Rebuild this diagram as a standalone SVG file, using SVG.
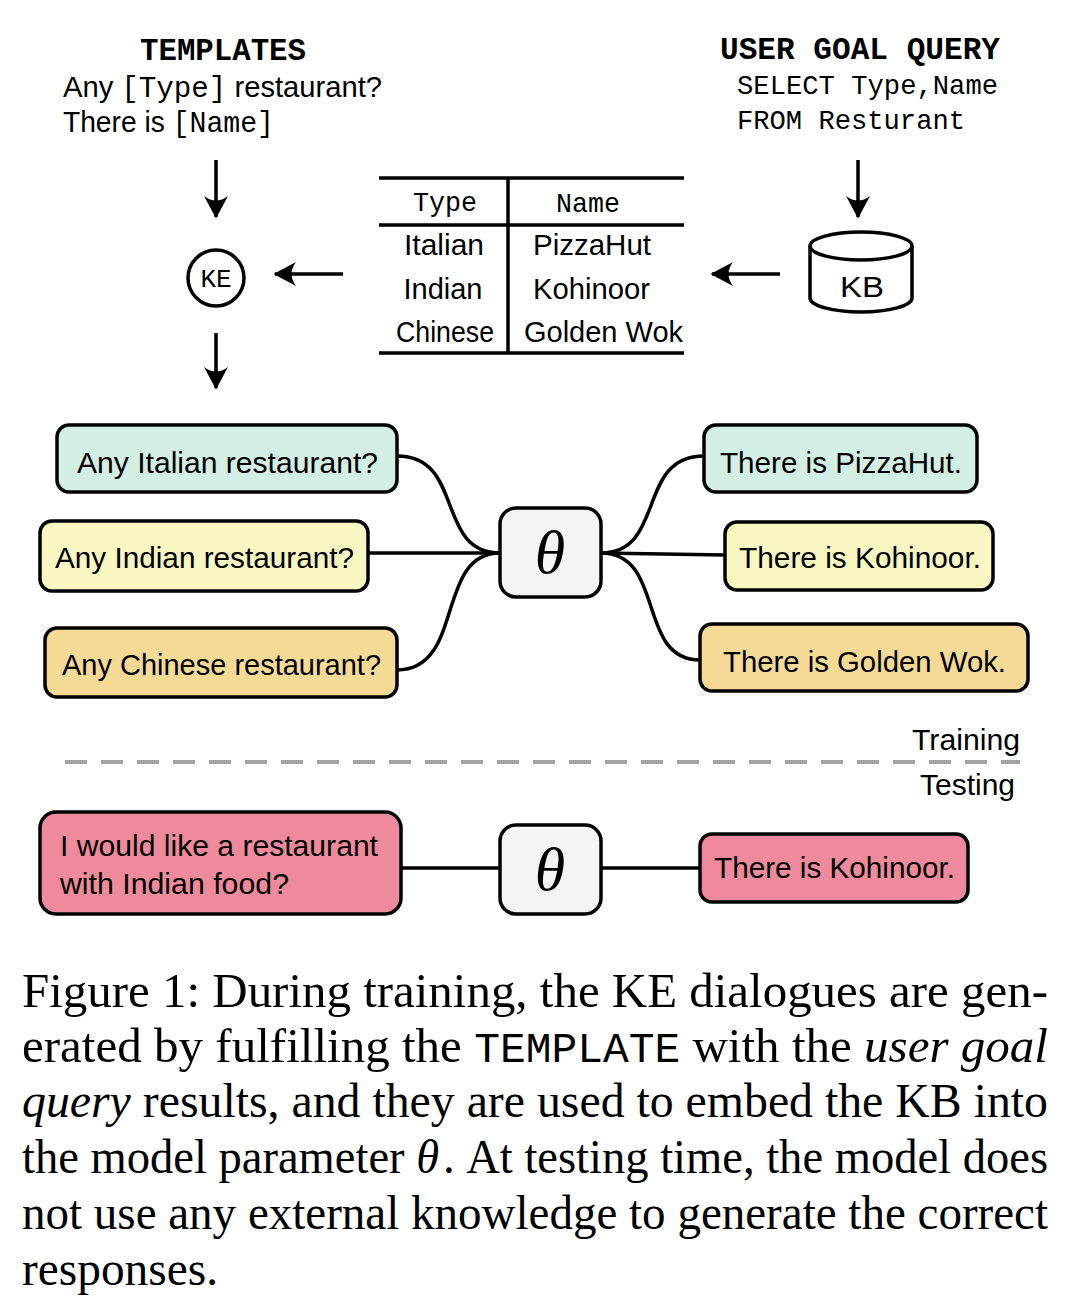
<svg xmlns="http://www.w3.org/2000/svg" width="1070" height="1304" viewBox="0 0 1070 1304">
<defs>
<marker id="ah" markerUnits="userSpaceOnUse" markerWidth="30" markerHeight="30" viewBox="-16 -10 20 20" refX="0" refY="0" orient="auto">
<path d="M1,0 L-14,-8 Q-8,0 -14,8 Z" fill="#000"/>
</marker>
<style>
.sans{font-family:"Liberation Sans","DejaVu Sans",sans-serif;font-size:29px;fill:#000}
.mono{font-family:"Liberation Mono","DejaVu Sans Mono",monospace;fill:#000}
.box{stroke:#000;stroke-width:3.5}
.arrow{stroke:#000;stroke-width:3.5;fill:none;marker-end:url(#ah)}
.conn{stroke:#000;stroke-width:3.5;fill:none}
.cap{font-family:"Liberation Serif","Times New Roman",serif;font-size:48px;fill:#000}
.theta{font-family:"Liberation Serif","DejaVu Serif",serif;font-style:italic;font-size:62px;fill:#000}
.mint{fill:#d3eee3}.yel{fill:#f9f7c1}.org{fill:#f5da95}.pink{fill:#ee8a9b}.gray{fill:#f4f4f4}
</style>
</defs>

<g id="templates">
<text class="mono" x="223" y="60" font-size="32" font-weight="bold" text-anchor="middle" textLength="166" lengthAdjust="spacingAndGlyphs">TEMPLATES</text>
<text class="sans" x="63" y="97" textLength="319" lengthAdjust="spacingAndGlyphs">Any <tspan class="mono" font-size="29">[Type]</tspan> restaurant?</text>
<text class="sans" x="63" y="132" textLength="211" lengthAdjust="spacingAndGlyphs">There is <tspan class="mono" font-size="29">[Name]</tspan></text>
</g>

<g id="user-goal-query">
<text class="mono" x="720" y="59" font-size="32" font-weight="bold" textLength="280" lengthAdjust="spacingAndGlyphs">USER GOAL QUERY</text>
<text class="mono" x="737" y="94" font-size="28" textLength="261" lengthAdjust="spacingAndGlyphs">SELECT Type,Name</text>
<text class="mono" x="737" y="129" font-size="28" textLength="228" lengthAdjust="spacingAndGlyphs">FROM Resturant</text>
</g>

<g id="ke">
<circle cx="216" cy="278" r="28" fill="#fff" stroke="#000" stroke-width="3.5"/>
<text class="mono" x="216" y="287" font-size="26" text-anchor="middle">KE</text>
</g>

<g id="table">
<line x1="379" y1="178" x2="684" y2="178" stroke="#000" stroke-width="3.5"/>
<line x1="379" y1="225" x2="684" y2="225" stroke="#000" stroke-width="3.5"/>
<line x1="379" y1="353" x2="684" y2="353" stroke="#000" stroke-width="3.5"/>
<line x1="508" y1="178" x2="508" y2="353" stroke="#000" stroke-width="3.5"/>
<text class="mono" x="445" y="211" font-size="28" text-anchor="middle" textLength="64" lengthAdjust="spacingAndGlyphs">Type</text>
<text class="mono" x="588" y="212" font-size="28" text-anchor="middle" textLength="64" lengthAdjust="spacingAndGlyphs">Name</text>
<text class="sans" x="444" y="255" text-anchor="middle" textLength="80" lengthAdjust="spacingAndGlyphs">Italian</text>
<text class="sans" x="443" y="299" text-anchor="middle" textLength="79" lengthAdjust="spacingAndGlyphs">Indian</text>
<text class="sans" x="445" y="342" text-anchor="middle" textLength="98" lengthAdjust="spacingAndGlyphs">Chinese</text>
<text class="sans" x="533" y="255" textLength="118" lengthAdjust="spacingAndGlyphs">PizzaHut</text>
<text class="sans" x="533" y="299" textLength="117" lengthAdjust="spacingAndGlyphs">Kohinoor</text>
<text class="sans" x="524" y="342" textLength="159" lengthAdjust="spacingAndGlyphs">Golden Wok</text>
</g>

<g id="kb">
<path d="M810,246 L810,298 A51,14 0 0 0 912,298 L912,246" fill="#fff" stroke="#000" stroke-width="3.5"/>
<ellipse cx="861" cy="246" rx="51" ry="14" fill="#fff" stroke="#000" stroke-width="3.5"/>
<text class="sans" x="862" y="297" font-size="30" text-anchor="middle" textLength="44" lengthAdjust="spacingAndGlyphs">KB</text>
</g>

<g id="q1"><rect class="box mint" x="57" y="425" width="340" height="67" rx="12"/>
<text class="sans" x="77" y="473" textLength="301" lengthAdjust="spacingAndGlyphs">Any Italian restaurant?</text></g>
<g id="q2"><rect class="box yel" x="40" y="521" width="328" height="70" rx="12"/>
<text class="sans" x="55" y="568" textLength="299" lengthAdjust="spacingAndGlyphs">Any Indian restaurant?</text></g>
<g id="q3"><rect class="box org" x="45" y="628" width="352" height="69" rx="12"/>
<text class="sans" x="62" y="675" textLength="319" lengthAdjust="spacingAndGlyphs">Any Chinese restaurant?</text></g>

<g id="theta-train"><rect class="box gray" x="500" y="508" width="101" height="89" rx="16"/>
<text class="theta" x="550" y="573" text-anchor="middle">θ</text></g>

<g id="a1"><rect class="box mint" x="704" y="425" width="273" height="67" rx="12"/>
<text class="sans" x="720" y="473" textLength="242" lengthAdjust="spacingAndGlyphs">There is PizzaHut.</text></g>
<g id="a2"><rect class="box yel" x="725" y="522" width="268" height="68" rx="12"/>
<text class="sans" x="739" y="568" textLength="242" lengthAdjust="spacingAndGlyphs">There is Kohinoor.</text></g>
<g id="a3"><rect class="box org" x="700" y="624" width="328" height="67" rx="12"/>
<text class="sans" x="723" y="672" textLength="283" lengthAdjust="spacingAndGlyphs">There is Golden Wok.</text></g>

<g id="divider">
<line x1="65" y1="762" x2="1020" y2="762" stroke="#a3a3a3" stroke-width="4" stroke-dasharray="22,14"/>
<text class="sans" x="1020" y="750" text-anchor="end" textLength="108" lengthAdjust="spacingAndGlyphs">Training</text>
<text class="sans" x="1015" y="795" text-anchor="end" textLength="95" lengthAdjust="spacingAndGlyphs">Testing</text>
</g>

<g id="test-q"><rect class="box pink" x="40" y="812" width="361" height="102" rx="16"/>
<text class="sans" x="60" y="856" textLength="318" lengthAdjust="spacingAndGlyphs">I would like a restaurant</text>
<text class="sans" x="60" y="894" textLength="229" lengthAdjust="spacingAndGlyphs">with Indian food?</text></g>
<g id="theta-test"><rect class="box gray" x="500" y="825" width="101" height="89" rx="16"/>
<text class="theta" x="550" y="890" text-anchor="middle">θ</text></g>
<g id="test-a"><rect class="box pink" x="700" y="834" width="268" height="68" rx="12"/>
<text class="sans" x="714" y="878" textLength="241" lengthAdjust="spacingAndGlyphs">There is Kohinoor.</text></g>

<g id="connectors">
<line class="arrow" x1="216" y1="160" x2="216" y2="217"/>
<line class="arrow" x1="858" y1="160" x2="858" y2="217"/>
<line class="arrow" x1="343" y1="274" x2="275" y2="274"/>
<line class="arrow" x1="780" y1="274" x2="712" y2="274"/>
<line class="arrow" x1="216" y1="333" x2="216" y2="388"/>
<path class="conn" d="M397,456 C465,456 435,553 500,553"/>
<path class="conn" d="M368,553 L500,553"/>
<path class="conn" d="M397,670 C465,670 435,553 500,553"/>
<path class="conn" d="M601,553 C666,553 636,456 704,456"/>
<path class="conn" d="M601,553 L725,555"/>
<path class="conn" d="M601,553 C666,553 636,660 700,660"/>
<line class="conn" x1="401" y1="868" x2="500" y2="868"/>
<line class="conn" x1="601" y1="868" x2="700" y2="868"/>
</g>

<g id="caption">
<text class="cap" x="22" y="1007" textLength="1026" lengthAdjust="spacingAndGlyphs">Figure 1:  During training, the KE dialogues are gen-</text>
<text class="cap" x="22" y="1062" textLength="1026" lengthAdjust="spacingAndGlyphs">erated by fulfilling the <tspan font-family="Liberation Mono, monospace" font-size="42">TEMPLATE</tspan> with the <tspan font-style="italic">user goal</tspan></text>
<text class="cap" x="22" y="1117" textLength="1026" lengthAdjust="spacingAndGlyphs"><tspan font-style="italic">query</tspan> results, and they are used to embed the KB into</text>
<text class="cap" x="22" y="1173" textLength="1026" lengthAdjust="spacingAndGlyphs">the model parameter <tspan font-style="italic">θ</tspan><tspan dx="4">. At testing time, the model does</tspan></text>
<text class="cap" x="22" y="1229" textLength="1026" lengthAdjust="spacingAndGlyphs">not use any external knowledge to generate the correct</text>
<text class="cap" x="22" y="1285" textLength="196" lengthAdjust="spacingAndGlyphs">responses.</text>
</g>
</svg>
